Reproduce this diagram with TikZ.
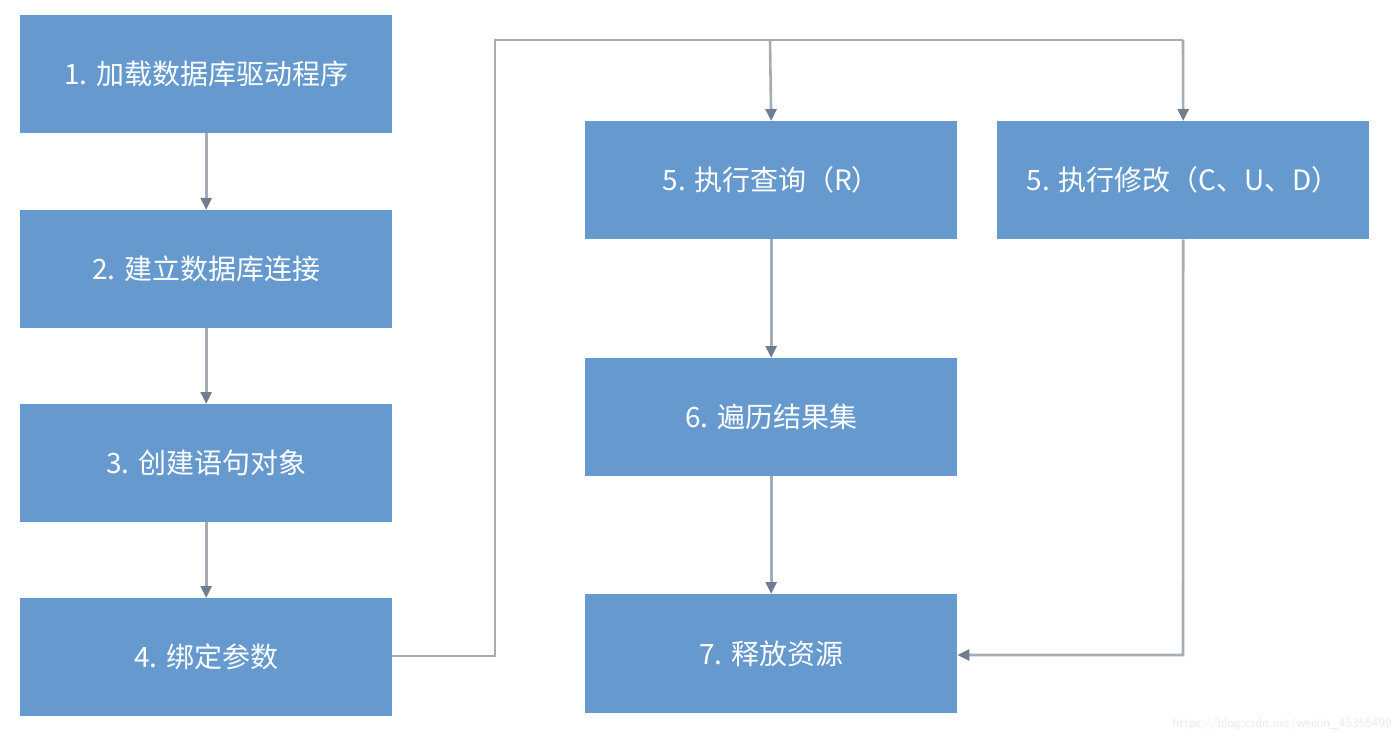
\documentclass[tikz,border=0pt]{standalone}
\usepackage{fontspec}
\newfontfamily\cjk{Noto Sans CJK SC}
\usetikzlibrary{arrows.meta}
\definecolor{boxblue}{RGB}{102,153,206}
\definecolor{linegray}{RGB}{166,172,180}
\definecolor{tipgray}{RGB}{110,125,145}
\tikzset{
  stepbox/.style={draw=none, fill=boxblue, minimum width=372pt, minimum height=118pt, inner sep=0pt,
    text=white, font=\cjk\fontsize{28}{32}\selectfont, anchor=north west},
  conn/.style={draw=linegray, line width=2.6pt,
    -{Triangle[length=12pt,width=11pt,color=tipgray]}},
  plain/.style={draw=linegray, line width=2.6pt}
}
\begin{document}
\begin{tikzpicture}[x=1pt,y=-1pt]
\useasboundingbox (0,0) rectangle (1400,738);
\fill[white] (0,0) rectangle (1400,738);
\node[stepbox] (s1) at (20,15) {1. 加载数据库驱动程序};
\node[stepbox] (s2) at (20,210) {2. 建立数据库连接};
\node[stepbox] (s3) at (20,404) {3. 创建语句对象};
\node[stepbox] (s4) at (20,598) {4. 绑定参数};
\node[stepbox] (s5r) at (585,121) {5. 执行查询（R）};
\node[stepbox] (s5c) at (997,121) {5. 执行修改（C、U、D）};
\node[stepbox] (s6) at (585,358) {6. 遍历结果集};
\node[stepbox, minimum height=119pt] (s7) at (585,594) {7. 释放资源};
\coordinate (c1) at (495,656);
\coordinate (c2) at (495,40);
\coordinate (c3) at (1183,40);
\coordinate (c4) at (770,40);
\coordinate (c5) at (1183,655);
\draw[conn] (s1.south) -- (s2.north);
\draw[conn] (s2.south) -- (s3.north);
\draw[conn] (s3.south) -- (s4.north);
\draw[plain, line join=miter] (s4.east |- c1) -- (c1) -- (c2) -- (c3);
\draw[conn] (c3) -- (s5c.north);
\draw[conn] (c4) -- (s5r.north);
\draw[conn] (s5r.south) -- (s6.north);
\draw[conn] (s6.south) -- (s7.north);
\draw[conn] (s5c.south) -- (c5) -- (s7.east |- c5);
\node[anchor=east, text=black!8, font=\fontsize{13.5}{15}\selectfont\sffamily, inner sep=0pt] (wm) at (1392,724) {https://blog.csdn.net/weixin\_45365499};
\end{tikzpicture}
\end{document}
